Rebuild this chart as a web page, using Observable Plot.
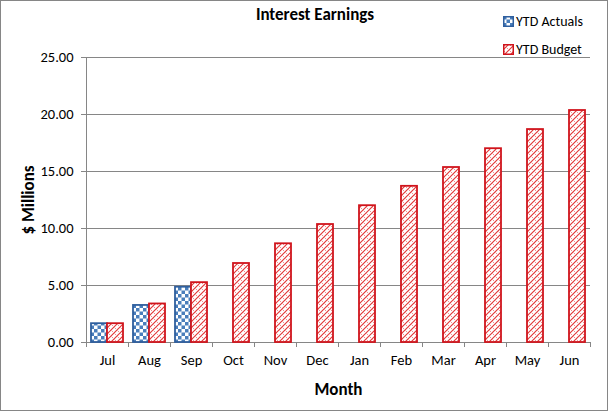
<!DOCTYPE html>
<html><head><meta charset="utf-8">
<script src="https://cdn.jsdelivr.net/npm/d3@7"></script>
<script src="https://cdn.jsdelivr.net/npm/@observablehq/plot@0.6"></script>
<style>
body{margin:0;background:#fff;}
#wrap{position:relative;width:608px;height:411px;font-family:Carlito,Calibri,Lato,sans-serif;overflow:hidden}
#wrap svg.chart{display:block}
#frame{position:absolute;left:0;top:0;width:606px;height:409px;border:1px solid #868686;pointer-events:none}
#title{position:absolute;left:22px;width:586px;top:4px;text-align:center;font-weight:bold;font-size:17px;color:#000}
.leg{position:absolute;left:503px;font-size:14px;display:flex;align-items:center;color:#000}
.leg svg{margin-right:2px}
#defs{position:absolute;width:0;height:0}
</style></head>
<body>
<svg id="defs" width="0" height="0">
  <defs>
    <pattern id="pActual" width="7" height="7" patternUnits="userSpaceOnUse">
      <rect width="7" height="7" fill="#fff"/>
      <rect x="0" y="0" width="3.5" height="3.5" fill="#4a7ebb"/>
      <rect x="3.5" y="3.5" width="3.5" height="3.5" fill="#4a7ebb"/>
    </pattern>
    <pattern id="pBudget" width="6" height="6" patternUnits="userSpaceOnUse">
      <rect width="6" height="6" fill="#fff"/>
      <path d="M0,6 L6,0 M-1,1 L1,-1 M5,7 L7,5" stroke="#e23434" stroke-width="1.1" fill="none"/>
      <path d="M0.5,0.5 L2,2 M3.5,3.5 L5,5" stroke="#f09090" stroke-width="1" fill="none"/>
    </pattern>
  </defs>
</svg>
<div id="wrap">
  <div id="title">Interest Earnings</div>
  <div class="leg" style="top:13px"><svg width="11" height="11"><rect x="0.75" y="0.75" width="9.5" height="9.5" fill="url(#pActual)" stroke="#2f5f9e" stroke-width="1.5"/></svg>YTD Actuals</div>
  <div class="leg" style="top:41px"><svg width="11" height="11"><rect x="0.75" y="0.75" width="9.5" height="9.5" fill="url(#pBudget)" stroke="#d0141c" stroke-width="1.5"/></svg>YTD Budget</div>
  <div id="frame"></div>
</div>
<script>
const months = ["Jul","Aug","Sep","Oct","Nov","Dec","Jan","Feb","Mar","Apr","May","Jun"];
const series = ["YTD Actuals","YTD Budget"];
const actuals = [1.65, 3.25, 4.85];
const budget = [1.65, 3.38, 5.25, 6.93, 8.66, 10.35, 12.0, 13.7, 15.35, 17.0, 18.68, 20.35];
const yTicks = [0, 5, 10, 15, 20, 25];

const actualRows = actuals.map((v, i) => ({month: months[i], series: series[0], value: v}));
const budgetRows = budget.map((v, i) => ({month: months[i], series: series[1], value: v}));

const gray = "#868686";
const font = "Carlito, Calibri, Lato, sans-serif";

const chart = Plot.plot({
  width: 608, height: 411,
  marginLeft: 83, marginRight: 16, marginTop: 57, marginBottom: 69,
  style: {fontFamily: font, fontSize: "14px", color: "#000", background: "transparent"},
  fx: {domain: months, padding: 0, axis: null},
  x: {domain: series, paddingInner: 0, paddingOuter: 0.28, axis: null},
  y: {domain: [0, 25]},
  marks: [
    Plot.gridY(yTicks, {stroke: gray, strokeOpacity: 1, strokeWidth: 1}),
    Plot.barY(actualRows, {fx: "month", x: "series", y: "value", fill: "url(#pActual)", stroke: "#2f5f9e", strokeWidth: 1.8}),
    Plot.barY(budgetRows, {fx: "month", x: "series", y: "value", fill: "url(#pBudget)", stroke: "#d0141c", strokeWidth: 1.8}),
    Plot.axisY(yTicks, {tickFormat: d => d.toFixed(2), tickSize: 5, tickPadding: 8, stroke: gray, label: null, fontSize: 14.5}),
    Plot.axisY(yTicks, {tickSize: 0, tickFormat: () => "", label: "$ Millions", labelArrow: "none", labelAnchor: "center", labelOffset: 65, dy: -9, fontWeight: "bold", fontSize: 17}),
    Plot.axisFx({anchor: "bottom", tickSize: 0, tickPadding: 12, label: null, fontSize: 14.5}),
    Plot.axisFx({anchor: "bottom", tickSize: 0, tickFormat: () => "", label: "Month", labelArrow: "none", labelAnchor: "center", labelOffset: 52, dx: -11, fontWeight: "bold", fontSize: 17})
  ]
});
chart.classList.add("chart");
document.getElementById("wrap").prepend(chart);

// Excel-style axis line and category boundary ticks, positioned from the plot's scales
const fx = chart.scale("fx");
const y = chart.scale("y");
const yTop = y.apply ? y.apply(25) : 57;
const y0 = y.apply ? y.apply(0) : 342;
const edges = months.map((m, i) => fx.apply ? fx.apply(m) : fx.range[0] + i * fx.step);
edges.push(edges[edges.length - 1] + fx.step);
const g = d3.select(chart).append("g").attr("stroke", gray).attr("stroke-width", 1);
g.append("line").attr("x1", edges[0] + 0.5).attr("x2", edges[0] + 0.5).attr("y1", yTop).attr("y2", y0);
edges.forEach(x => g.append("line").attr("x1", Math.round(x) + 0.5).attr("x2", Math.round(x) + 0.5).attr("y1", y0).attr("y2", y0 + 5));
</script>
</body></html>
